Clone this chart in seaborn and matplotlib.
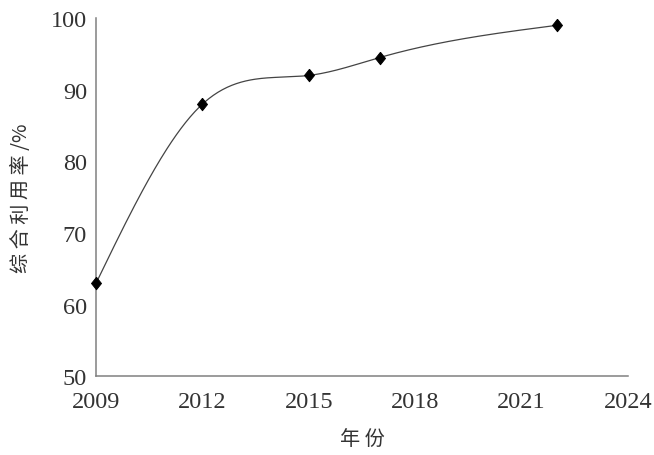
import numpy as np
import pandas as pd
import matplotlib
matplotlib.use('Agg')
import matplotlib.pyplot as plt
import seaborn as sns

# 数据
years = [2009, 2012, 2015, 2017, 2022]
rates = [63, 88, 92, 94.5, 99]
x_ticks = [2009, 2012, 2015, 2018, 2021, 2024]
y_ticks = [50, 60, 70, 80, 90, 100]

sns.set_style('white')
plt.rcParams['font.family'] = ['Liberation Serif', 'Noto Sans CJK SC']
plt.rcParams['axes.unicode_minus'] = False

df = pd.DataFrame({'年份': years, '综合利用率': rates})


# 自然三次样条，让连线平滑
def natural_spline(x, y, n=300):
    x = np.asarray(x, float)
    y = np.asarray(y, float)
    k = len(x)
    h = np.diff(x)
    A = np.zeros((k, k))
    b = np.zeros(k)
    A[0, 0] = A[-1, -1] = 1
    for i in range(1, k - 1):
        A[i, i - 1] = h[i - 1]
        A[i, i] = 2 * (h[i - 1] + h[i])
        A[i, i + 1] = h[i]
        b[i] = 6 * ((y[i + 1] - y[i]) / h[i] - (y[i] - y[i - 1]) / h[i - 1])
    m = np.linalg.solve(A, b)
    xs = np.linspace(x[0], x[-1], n)
    ys = np.empty_like(xs)
    for j, xv in enumerate(xs):
        i = min(np.searchsorted(x, xv, side='right') - 1, k - 2)
        t = xv - x[i]
        hi = h[i]
        a = (m[i + 1] - m[i]) / (6 * hi)
        bb = m[i] / 2
        c = (y[i + 1] - y[i]) / hi - hi * (2 * m[i] + m[i + 1]) / 6
        ys[j] = y[i] + c * t + bb * t ** 2 + a * t ** 3
    return xs, ys


fig = plt.figure(figsize=(6.54, 4.56), dpi=100)
ax = fig.add_axes([0.147, 0.173, 0.813, 0.785])

xs, ys = natural_spline(years, rates)
ax.plot(xs, ys, color='#444444', lw=0.9, clip_on=False)

# 略瘦的菱形标记
diamond = [(0, 1), (0.8, 0), (0, -1), (-0.8, 0), (0, 1)]
sns.scatterplot(data=df, x='年份', y='综合利用率', marker=diamond, s=80,
                color='black', edgecolor='black', ax=ax, clip_on=False, zorder=3)

ax.set_xlim(2009, 2024)
ax.set_ylim(50, 100)
ax.set_xticks(x_ticks)
ax.set_yticks(y_ticks)
ax.tick_params(direction='in', length=5, width=0.9, color='#808080',
               labelsize=17.5, labelcolor='#333333')
ax.tick_params(axis='x', pad=11)
ax.tick_params(axis='y', pad=6.5)

for side in ['top', 'right']:
    ax.spines[side].set_visible(False)
for side in ['left', 'bottom']:
    ax.spines[side].set_color('#808080')
    ax.spines[side].set_linewidth(1.1)

cjk = ['Noto Sans CJK SC', 'DejaVu Sans']
ax.set_xlabel('年 份', fontsize=14.5, color='#333333', family=cjk)
ax.set_ylabel('综 合 利 用 率 /%', fontsize=14.5, color='#333333', family=cjk)
ax.xaxis.set_label_coords(0.5, -0.145)
ax.yaxis.set_label_coords(-0.12, 0.5)

fig.savefig('out.png', dpi=100)
